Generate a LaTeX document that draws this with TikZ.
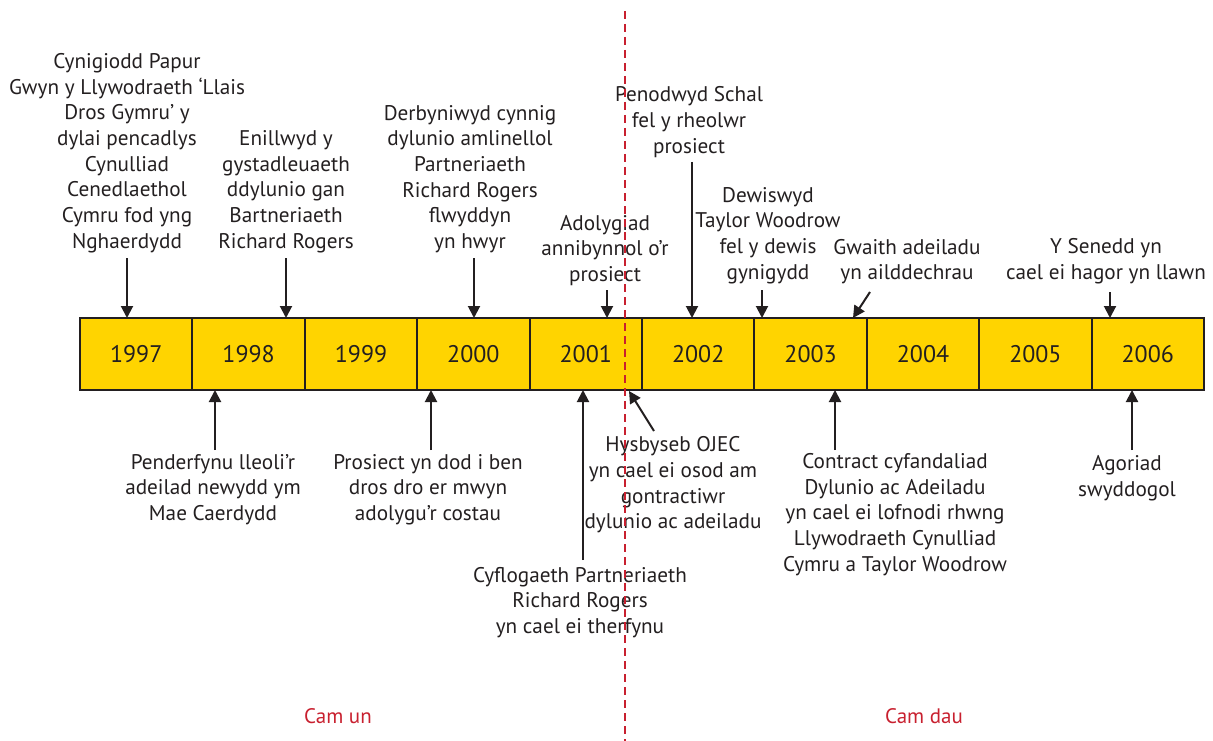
\documentclass[tikz,border=0pt]{standalone}
\usepackage{fontspec}
\setmainfont{PT Sans}
\usetikzlibrary{arrows.meta}
\definecolor{ink}{HTML}{231F20}
\definecolor{gold}{HTML}{FFD400}
\definecolor{camred}{HTML}{C8202F}
\tikzset{
  yearbox/.style={fill=gold, minimum width=112.4pt, minimum height=72pt, inner sep=0pt, outer sep=0pt, text=ink, font=\fontsize{24}{28}\selectfont},
  boxedge/.style={draw=ink, line width=2pt},
  lbl/.style={align=center, text=ink, inner sep=0pt, font=\fontsize{21.2}{25.7}\selectfont},
  arr/.style={draw=ink, line width=2pt, -{Triangle[length=12pt,width=12pt]}},
  camlbl/.style={text=camred, inner sep=0pt, font=\fontsize{21}{25}\selectfont},
}
\begin{document}
\begin{tikzpicture}[x=1pt,y=-1pt]
\useasboundingbox (0,0) rectangle (1213,741);
% year boxes
\foreach \yr [count=\i from 0] in {1997,...,2006}{
  \node[yearbox] (y\yr) at ({80+112.4*(\i+0.5)},354) {\yr};
}
\foreach \yr in {1997,...,2006}{
  \draw[boxedge] (y\yr.south west) rectangle (y\yr.north east);
}
% top labels
\node[lbl] (l1) at (127,153) {Cynigiodd Papur\\Gwyn y Llywodraeth ‘Llais\\Dros Gymru’ y\\dylai pencadlys\\Cynulliad\\Cenedlaethol\\Cymru fod yng\\Nghaerdydd};
\node[lbl] (l2) at (286,191.5) {Enillwyd y\\gystadleuaeth\\ddylunio gan\\Bartneriaeth\\Richard Rogers};
\node[lbl] (l3) at (470,179) {Derbyniwyd cynnig\\dylunio amlinellol\\Partneriaeth\\Richard Rogers\\flwyddyn\\yn hwyr};
\node[lbl] (l4) at (605,250.5) {Adolygiad\\annibynnol o’r\\prosiect};
\node[lbl] (l5) at (689,122) {Penodwyd Schal\\fel y rheolwr\\prosiect};
\node[lbl] (l6) at (768,235.5) {Dewiswyd\\Taylor Woodrow\\fel y dewis\\gynigydd};
\node[lbl] (l7) at (907,261.5) {Gwaith adeiladu\\yn ailddechrau};
\node[lbl] (l8) at (1106,261.5) {Y Senedd yn\\cael ei hagor yn llawn};
% bottom labels
\node[lbl] (b1) at (213,489.5) {Penderfynu lleoli’r\\adeilad newydd ym\\Mae Caerdydd};
\node[lbl] (b2) at (428,489.5) {Prosiect yn dod i ben\\dros dro er mwyn\\adolygu’r costau};
\node[lbl] (b3) at (580,602.5) {Cyflogaeth Partneriaeth\\Richard Rogers\\yn cael ei therfynu};
\node[lbl] (b4) at (673,485) {Hysbyseb OJEC\\yn cael ei osod am\\gontractiwr\\dylunio ac adeiladu};
\node[lbl] (b5) at (895,514.5) {Contract cyfandaliad\\Dylunio ac Adeiladu\\yn cael ei lofnodi rhwng\\Llywodraeth Cynulliad\\Cymru a Taylor Woodrow};
\node[lbl] (b6) at (1127,478) {Agoriad\\swyddogol};
% arrow tails
\coordinate (t1) at (127,258);
\coordinate (t2) at (286,258);
\coordinate (t3) at (474,258);
\coordinate (t4) at (607,290);
\coordinate (t5) at (692,162);
\coordinate (t6) at (762,290);
\coordinate (t7) at (870,292);
\coordinate (h7) at (853,318);
\coordinate (t8) at (1110,292);
\coordinate (s1) at (215,450);
\coordinate (s2) at (431,450);
\coordinate (s3) at (583,560);
\coordinate (s4) at (654,431);
\coordinate (h4) at (629,391);
\coordinate (s5) at (835,450);
\coordinate (s6) at (1132,450);
% top arrows
\draw[arr] (t1) -- (t1 |- y1997.north);
\draw[arr] (t2) -- (t2 |- y1998.north);
\draw[arr] (t3) -- (t3 |- y2000.north);
\draw[arr] (t4) -- (t4 |- y2001.north);
\draw[arr] (t5) -- (t5 |- y2002.north);
\draw[arr] (t6) -- (t6 |- y2003.north);
\draw[arr] (t7) -- (h7);
\draw[arr] (t8) -- (t8 |- y2006.north);
% bottom arrows
\draw[arr] (s1) -- (s1 |- y1998.south);
\draw[arr] (s2) -- (s2 |- y2000.south);
\draw[arr] (s3) -- (s3 |- y2001.south);
\draw[arr] (s4) -- (h4);
\draw[arr] (s5) -- (s5 |- y2003.south);
\draw[arr] (s6) -- (s6 |- y2006.south);
% phase divider
\coordinate (dtop) at (625,11);
\coordinate (dbot) at (625,741);
\draw[camred, line width=2pt, dash pattern=on 8pt off 5pt] (dtop) -- (dbot);
\node[camlbl] (c1) at (338,716) {Cam un};
\node[camlbl] (c2) at (924,716) {Cam dau};
\end{tikzpicture}
\end{document}
